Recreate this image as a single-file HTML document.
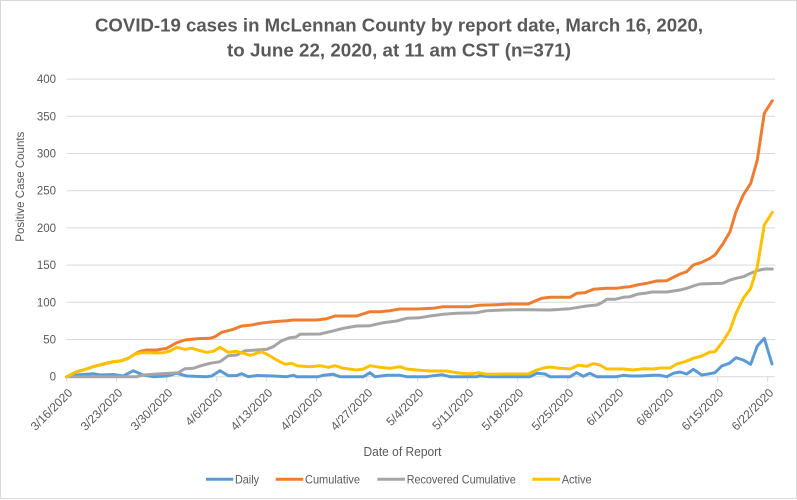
<!DOCTYPE html>
<html>
<head>
<meta charset="utf-8">
<style>
  html,body{margin:0;padding:0;background:#fff;}
  svg{display:block;}
  text{font-family:"Liberation Sans",sans-serif;fill:#595959;}
</style>
</head>
<body>
<svg width="797" height="500" viewBox="0 0 797 500" xmlns="http://www.w3.org/2000/svg">
  <rect x="0.5" y="0.5" width="796" height="498" fill="#fff" stroke="#D9D9D9" stroke-width="1"/>

  <!-- Title -->
  <text x="399" y="31.7" text-anchor="middle" font-size="18.5" font-weight="bold" textLength="608" lengthAdjust="spacingAndGlyphs">COVID-19 cases in McLennan County by report date, March 16, 2020,</text>
  <text x="399" y="56.7" text-anchor="middle" font-size="18.5" font-weight="bold" textLength="344" lengthAdjust="spacingAndGlyphs">to June 22, 2020, at 11 am CST (n=371)</text>

  <!-- Gridlines -->
  <g stroke="#D9D9D9" stroke-width="1">
    <line x1="66.7" y1="79.1" x2="775" y2="79.1"/>
    <line x1="66.7" y1="116.3" x2="775" y2="116.3"/>
    <line x1="66.7" y1="153.5" x2="775" y2="153.5"/>
    <line x1="66.7" y1="190.7" x2="775" y2="190.7"/>
    <line x1="66.7" y1="227.9" x2="775" y2="227.9"/>
    <line x1="66.7" y1="265.1" x2="775" y2="265.1"/>
    <line x1="66.7" y1="302.3" x2="775" y2="302.3"/>
    <line x1="66.7" y1="339.5" x2="775" y2="339.5"/>
    <line x1="66.7" y1="376.7" x2="775" y2="376.7"/>
    <!-- ticks -->
    <line x1="66.7" y1="376.7" x2="66.7" y2="381.7"/>
    <line x1="116.7" y1="376.7" x2="116.7" y2="381.7"/>
    <line x1="166.7" y1="376.7" x2="166.7" y2="381.7"/>
    <line x1="216.7" y1="376.7" x2="216.7" y2="381.7"/>
    <line x1="266.7" y1="376.7" x2="266.7" y2="381.7"/>
    <line x1="316.7" y1="376.7" x2="316.7" y2="381.7"/>
    <line x1="366.7" y1="376.7" x2="366.7" y2="381.7"/>
    <line x1="417.7" y1="376.7" x2="417.7" y2="381.7"/>
    <line x1="467.7" y1="376.7" x2="467.7" y2="381.7"/>
    <line x1="517.7" y1="376.7" x2="517.7" y2="381.7"/>
    <line x1="567.7" y1="376.7" x2="567.7" y2="381.7"/>
    <line x1="617.7" y1="376.7" x2="617.7" y2="381.7"/>
    <line x1="667.7" y1="376.7" x2="667.7" y2="381.7"/>
    <line x1="717.7" y1="376.7" x2="717.7" y2="381.7"/>
    <line x1="767.7" y1="376.7" x2="767.7" y2="381.7"/>
  </g>

  <!-- Y axis labels -->
  <g font-size="11.5" text-anchor="end">
    <text x="56" y="83.1">400</text>
    <text x="56" y="120.3">350</text>
    <text x="56" y="157.5">300</text>
    <text x="56" y="194.7">250</text>
    <text x="56" y="231.9">200</text>
    <text x="56" y="269.1">150</text>
    <text x="56" y="306.3">100</text>
    <text x="56" y="343.5">50</text>
    <text x="56" y="380.7">0</text>
  </g>

  <!-- Y axis title -->
  <text transform="translate(24,186.7) rotate(-90)" text-anchor="middle" font-size="12" textLength="110" lengthAdjust="spacingAndGlyphs">Positive Case Counts</text>

  <!-- X axis labels -->
  <g font-size="12" text-anchor="end">
    <text transform="translate(73.2,393.5) rotate(-45)">3/16/2020</text>
    <text transform="translate(123.2,393.5) rotate(-45)">3/23/2020</text>
    <text transform="translate(173.2,393.5) rotate(-45)">3/30/2020</text>
    <text transform="translate(223.2,393.5) rotate(-45)">4/6/2020</text>
    <text transform="translate(273.2,393.5) rotate(-45)">4/13/2020</text>
    <text transform="translate(323.2,393.5) rotate(-45)">4/20/2020</text>
    <text transform="translate(373.2,393.5) rotate(-45)">4/27/2020</text>
    <text transform="translate(424.2,393.5) rotate(-45)">5/4/2020</text>
    <text transform="translate(474.2,393.5) rotate(-45)">5/11/2020</text>
    <text transform="translate(524.2,393.5) rotate(-45)">5/18/2020</text>
    <text transform="translate(574.2,393.5) rotate(-45)">5/25/2020</text>
    <text transform="translate(624.2,393.5) rotate(-45)">6/1/2020</text>
    <text transform="translate(674.2,393.5) rotate(-45)">6/8/2020</text>
    <text transform="translate(724.2,393.5) rotate(-45)">6/15/2020</text>
    <text transform="translate(774.2,393.5) rotate(-45)">6/22/2020</text>
  </g>

  <!-- X axis title -->
  <text x="402.5" y="456" text-anchor="middle" font-size="12.5" textLength="78" lengthAdjust="spacingAndGlyphs">Date of Report</text>

  <!-- Series -->
  <g fill="none" stroke-width="3" stroke-linejoin="round" stroke-linecap="round">
    <!-- Daily -->
    <polyline stroke="#5B9BD5" points="66.7,376.7 76.7,375 93.3,373.7 100,375 113.3,374.5 123.3,376 133.3,370.7 143,375 153,376.7 166.7,376 176.7,373.3 186.7,376 206.7,376.7 211.7,376 220,370.7 228.3,375.7 236.7,375.5 241.7,373.7 248.3,376.7 256.7,375.5 273.3,376 286.7,376.7 293.3,375.3 296.7,376.7 318,376.7 323.3,375.3 333.3,374.3 340,376.7 363.3,376.7 370,372.7 375,376.7 386.7,375.3 400,375.3 406.7,376.7 426.7,376.7 433.3,375.7 441.7,374.7 450,376.7 476.7,376.7 480,375.7 490,376.7 530,376.7 536.7,373.3 545,374 550,376.7 570,376.7 576.7,372.7 583.3,376.3 590,373.3 596.7,376.7 616.7,376.7 623.3,375.3 630,376 640,376 653.3,375.3 660,375.3 666.7,376.7 673.3,373.3 680,372 686.7,374 693.3,369.3 701.7,375 708.3,374 715,372.7 721.7,366 729.3,363.3 736,357.7 743.3,360 750.7,364.3 757.3,346 764.3,338.3 772,364"/>
    <!-- Cumulative -->
    <polyline stroke="#ED7D31" points="66.7,376.7 76.7,371.7 83.3,370 93.3,366.7 103.3,364 113.3,361.7 121.7,360.7 128.3,358.3 135,354 140,351.5 146.7,350 156.7,350 166.7,348.3 176.7,342.7 185,340 196.7,338.7 210,338.3 215,336.7 221.7,332.3 233.3,329.3 241.7,326 250,325.3 260,323.3 273.3,321.7 286.7,320.7 293.3,320 303.3,320 316.7,320 326.7,318.7 335,316 356.7,316 365,313.3 370,311.7 380,311.7 390,310.7 400,309 416.7,309 433.3,308.3 443.3,306.7 470,306.7 478.3,305.3 496.7,304.7 510,304 528.3,304 535,301 541.7,298.3 550,297.3 570,297.3 576.7,293.3 585,292.7 593.3,289.3 606.7,288.3 616.7,288.3 623.3,287.3 630,286.7 636.7,285 646.7,283.3 656.7,281 666.7,280.7 673.3,277.3 680,274 686.7,271.7 693.3,265 701.7,262.3 710,258.3 715,255 723.3,243.3 730,231.7 736,211.7 743.3,195 750.7,183.3 757.3,160 764.3,113.3 772.3,100.7"/>
    <!-- Recovered Cumulative -->
    <polyline stroke="#A5A5A5" points="66.7,376.7 136.7,376.7 143.3,375 156.7,374 170,373.3 178.3,372.7 185,368.7 193.3,368.3 200,366 210,363.3 220,361.7 228.3,355.7 236.7,355 245,350.7 256.7,350 266.7,349.3 273.3,346.7 281.7,340.7 290,337.7 296,337 300,334.3 320,334 330,331.7 343.3,328.3 356.7,326 370,325.7 383.3,322.7 396.7,321 406.7,318.3 420,317.7 430,316 443.3,314.3 456.7,313.3 476.7,312.7 486.7,310.7 503.3,310 520,309.6 550,310 570,308.7 578.3,307.3 586.7,306 596.7,305 601.7,302.7 606.7,299.3 615,299.3 623.3,297.3 630,296.7 638.3,294 645,293.3 651.7,292 666.7,292 673.3,291 680,290 686.7,288.3 693.3,286 700,284 706.7,283.7 722.7,283.3 730,280 736,278.3 743.3,276.7 750.7,273.3 756.7,270.7 764.3,269 772.3,269"/>
    <!-- Active -->
    <polyline stroke="#FFC000" points="66.7,376.7 76.7,371.7 83.3,370 93.3,366.7 103.3,364 113.3,361.7 121.7,360.7 128.3,358.3 135,354 141.7,352.7 150,352.7 156.7,353 163.3,352.7 170,351 176.7,347.3 185,349.3 191.7,348.3 200,350.7 206.7,352.3 213.3,351.3 220,347.3 228.3,352.3 236.7,351.3 250,355.3 261.7,351.7 268.3,355 276.7,360 285,364.3 291.7,363.3 296.7,365.7 310,366.7 320,365.7 328.3,367.3 335,365.7 343.3,368.3 356.7,370 363.3,369 370,365.7 380,367.3 390,368.3 400,366.7 406.7,369 416.7,370 430,371 446.7,371 456.7,372.7 470,374 478.3,372.7 486.7,374.3 503.3,374 520,374 528.3,374 535,370.7 543.3,368 550,367 560,368.3 570,369 578.3,365.3 586.7,366.3 593.3,363.7 600,365 606.7,369 623.3,369 633.3,370 643.3,368.7 653.3,369 660,368 670,368 676.7,364 685,361.7 693.3,358.3 701.7,356 710,352 715,351.7 722.7,341.7 730,330 736,313.3 743.3,298.3 750.7,288.3 757.3,266.7 764.3,225 772.3,212.3"/>
  </g>

  <!-- Legend -->
  <g stroke-width="3" stroke-linecap="butt">
    <line x1="206" y1="479.3" x2="233.3" y2="479.3" stroke="#5B9BD5"/>
    <line x1="275.7" y1="479.3" x2="303.3" y2="479.3" stroke="#ED7D31"/>
    <line x1="377.3" y1="479.3" x2="405" y2="479.3" stroke="#A5A5A5"/>
    <line x1="532.3" y1="479.3" x2="560" y2="479.3" stroke="#FFC000"/>
  </g>
  <g font-size="12">
    <text x="235" y="483.5" textLength="24" lengthAdjust="spacingAndGlyphs">Daily</text>
    <text x="305" y="483.5" textLength="55" lengthAdjust="spacingAndGlyphs">Cumulative</text>
    <text x="406.7" y="483.5" textLength="109" lengthAdjust="spacingAndGlyphs">Recovered Cumulative</text>
    <text x="561.7" y="483.5" textLength="30" lengthAdjust="spacingAndGlyphs">Active</text>
  </g>
</svg>
</body>
</html>
